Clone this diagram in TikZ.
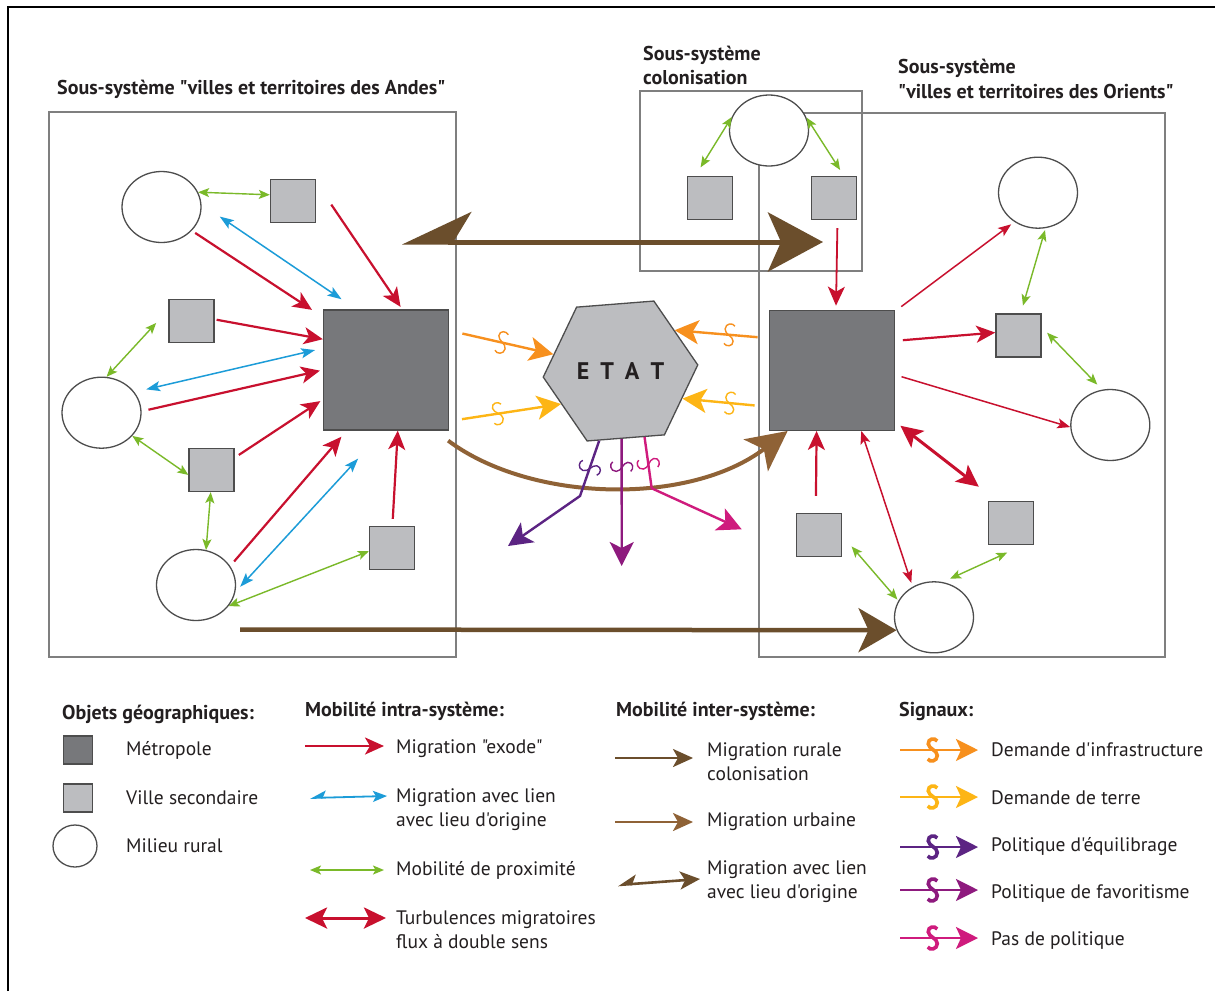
\documentclass[tikz,border=0pt]{standalone}
\usepackage{fontspec}
\newfontfamily\ptsans{PT Sans}
\usetikzlibrary{arrows.meta,shapes.geometric,decorations.markings,calc}
\definecolor{cred}{HTML}{C8102E}
\definecolor{cblue}{HTML}{1C9CD8}
\definecolor{cgreen}{HTML}{7AB929}
\definecolor{cbrownD}{HTML}{6B4E2C}
\definecolor{cbrownU}{HTML}{8F6236}
\definecolor{corange}{HTML}{F7901E}
\definecolor{cyellow}{HTML}{FDB515}
\definecolor{cpurple}{HTML}{5C2483}
\definecolor{cmagenta}{HTML}{8E1A7E}
\definecolor{cpink}{HTML}{CF1B7D}
\definecolor{cframe}{HTML}{7F7F7F}
\definecolor{cdark}{HTML}{77787B}
\definecolor{clight}{HTML}{BCBDC0}
\definecolor{cedge}{HTML}{4D4D4D}
\definecolor{ctext}{HTML}{231F20}
\tikzset{
  metro/.style={draw=cedge, fill=cdark, line width=1.3pt, minimum width=125pt, minimum height=120pt, inner sep=0pt},
  villesec/.style={draw=cedge, fill=clight, line width=1.3pt, minimum width=45pt, minimum height=43pt, inner sep=0pt},
  rural/.style={draw=cedge, fill=white, line width=1.3pt, ellipse, minimum width=79pt, minimum height=71pt, inner sep=0pt},
  sysbox/.style={draw=cframe, line width=1.8pt},
  redA/.style={draw=cred, line width=2.2pt, -{Stealth[length=19pt,width=17pt,inset=5pt]}},
  redB/.style={draw=cred, line width=1.5pt, -{Stealth[length=13pt,width=10pt,inset=3pt]}},
  redBB/.style={draw=cred, line width=1.5pt, {Stealth[length=13pt,width=10pt,inset=3pt]}-{Stealth[length=13pt,width=10pt,inset=3pt]}},
  turb/.style={draw=cred, line width=3pt, {Stealth[length=22pt,width=21pt,inset=5pt]}-{Stealth[length=22pt,width=21pt,inset=5pt]}},
  blu/.style={draw=cblue, line width=1.5pt, {Stealth[length=14pt,width=10pt,inset=3pt]}-{Stealth[length=14pt,width=10pt,inset=3pt]}},
  grn/.style={draw=cgreen, line width=1.4pt, {Stealth[length=11pt,width=9pt,inset=2.5pt]}-{Stealth[length=11pt,width=9pt,inset=2.5pt]}},
  sigline/.style={line width=2.4pt, -{Stealth[length=24pt,width=24pt,inset=6pt]}},
  sigS/.style 2 args={postaction={decorate,decoration={markings,mark=at position #1 with {\draw[#2,line width=1.4pt,-,shorten <=0pt,shorten >=0pt] (4.5,-9) .. controls (2,-12.5) and (-5,-11.5) .. (-4.5,-6) .. controls (-4,-1) and (4.5,0) .. (4.5,5.5) .. controls (4.5,11.5) and (-3,12.5) .. (-5,9);}}}},
  sigSB/.style 2 args={postaction={decorate,decoration={markings,mark=at position #1 with {\draw[#2,line width=3.6pt,-,shorten <=0pt,shorten >=0pt] (4.5,-9) .. controls (2,-12.5) and (-5,-11.5) .. (-4.5,-6) .. controls (-4,-1) and (4.5,0) .. (4.5,5.5) .. controls (4.5,11.5) and (-3,12.5) .. (-5,9);}}}},
  lbl/.style={anchor=west, align=left, inner sep=0pt},
  head/.style={anchor=west, align=left, inner sep=0pt, font=\ptsans\bfseries\fontsize{20}{24}\selectfont},
}
\begin{document}
\begin{tikzpicture}[x=1pt, y=-1pt, every node/.style={font=\ptsans\fontsize{19.5}{24}\selectfont, text=ctext}]
\useasboundingbox (0,0) rectangle (1215,991);
\fill[white] (0,0) rectangle (1215,991);
\draw[line width=2pt, black] (8,991) -- (8,7) -- (1215,7);

% system boxes
\draw[sysbox] (49,112) rectangle (456,657);
\draw[sysbox] (759,113) rectangle (1165,657);
\draw[sysbox] (640,91) rectangle (862,271);

% titles
\node[head] (t1) at (57,89) {Sous-système "villes et territoires des Andes"};
\node[head, font=\ptsans\bfseries\fontsize{20}{24}\selectfont] (t2) at (643,65) {Sous-système\\colonisation};
\node[head, font=\ptsans\bfseries\fontsize{20}{25}\selectfont] (t3) at (898,78.5) {Sous-système\\"villes et territoires des Orients"};

% left subsystem
\node[rural] (A) at (161.5,207) {};
\node[villesec] (a1) at (293,201) {};
\node[metro] (M1) at (386,370) {};
\node[villesec] (a2) at (191.5,321) {};
\node[rural] (B) at (101.5,412.7) {};
\node[villesec] (a3) at (211.5,470) {};
\node[rural] (C) at (196,585) {};
\node[villesec] (a4) at (392,548) {};

% colonisation
\node[villesec] (c1) at (709.7,198) {};
\node[villesec] (c2) at (834,198) {};
\node[rural] (col) at (769,130.5) {};

% right subsystem
\node[metro] (M2) at (831.7,370.3) {};
\node[rural] (D) at (1038,192.7) {};
\node[villesec] (d1) at (1018.4,335.4) {};
\node[rural] (E) at (1110.3,425) {};
\node[villesec] (d2) at (1010.8,523) {};
\node[villesec] (d3) at (819.3,535) {};
\node[rural] (F) at (934,617.3) {};

% ETAT
\node[regular polygon, regular polygon sides=6, regular polygon rotate=4.5, minimum size=155pt, draw=cedge, fill=clight, line width=1.3pt, inner sep=0pt, font=\ptsans\bfseries\fontsize{24}{24}\selectfont] (etat) at (620.5,371) {E\kern11pt T\kern11pt A\kern11pt T};

% left arrows
\draw[grn] (A.22) -- (a1.165);
\draw[blu, shorten <=22pt, shorten >=18pt] (A.4) -- (M1.116.6);
\draw[redA, shorten <=4pt, shorten >=13pt] (A.-38) -- (M1.140.5);
\draw[redA, shorten <=27pt, shorten >=3pt] (a1.39) -- (M1.75.4);
\draw[redA, shorten <=2pt] (a2.4) -- (M1.154.4);
\draw[blu, shorten <=12pt, shorten >=8pt] (B.32) -- (M1.161.4);
\draw[redA, shorten <=7pt, shorten >=3pt] (B.2) -- (M1.180);
\draw[grn, shorten >=18pt] (B.82.6) -- (a2.154);
\draw[grn] (B.-37.8) -- (a3.-168);
\draw[redA, shorten <=5pt, shorten >=3pt] (a3.28.6) -- (M1.-155.6);
\draw[grn] (a3.-92.6) -- (C.74.6);
\draw[redA, shorten <=6pt, shorten >=8pt] (C.29) -- (M1.-123);
\draw[blu, shorten <=7pt, shorten >=38pt] (C.-10.6) -- (M1.-92.8);
\draw[redA, shorten <=7pt] (a4.89) -- (M1.-79.3);
\draw[grn] (C.-33.5) -- (a4.-172);

% colonisation arrows
\draw[grn, shorten >=10pt] (col.160.4) -- (c1.123.5);
\draw[grn, shorten >=7pt] (col.19.8) -- (c2.66.4);
\draw[redA, line width=1.8pt, shorten <=8pt, shorten >=4pt] (c2.-81) -- (M2.86);

% right arrows
\draw[redB, shorten <=8pt, shorten >=4pt] (M2.43.8) -- (D.-129.2);
\draw[redA, shorten <=8pt] (M2.25.4) -- (d1.173.7);
\draw[redB, shorten <=7pt] (M2.-4.8) -- (E.-177.3);
\draw[turb, shorten <=7pt, shorten >=23pt] (M2.-39.9) -- (d2.122.2);
\draw[redA, shorten <=17pt] (d3.99) -- (M2.-104.8);
\draw[redBB, shorten >=4pt] (M2.-64.4) -- (F.125.9);
\draw[grn, shorten <=8pt, shorten >=2pt] (d1.84) -- (D.-78.7);
\draw[grn, shorten <=8pt, shorten >=7pt] (d1.20.4) -- (E.103.8);
\draw[grn, shorten <=14pt, shorten >=1.5pt] (d3.-2.3) -- (F.155.8);
\draw[grn, shorten <=8pt, shorten >=18pt] (F.76.4) -- (d2.-60);

% inter-system brown arrows
\coordinate (bigL) at (402,242);
\coordinate (bigR) at (823,242);
\draw[line width=5pt, cbrownD, {Stealth[harpoon,swap,length=64pt,width=60pt,inset=18pt]}-{Stealth[length=55pt,width=59pt,inset=13pt]}] (bigL) -- (bigR);
\coordinate (ruralS) at (240,629.5);
\draw[line width=4.5pt, cbrownD, -{Stealth[length=38pt,width=44pt,inset=10pt]}] (ruralS) -- (F.-161.5);
\draw[line width=4pt, cbrownU, -{Stealth[length=40pt,width=40pt,inset=10pt]}] ($(M1.south east)+(-1,10)$) .. controls ($(M1.south east)+(82,72)$) and ($(M2.-126)+(-98,75)$) .. (M2.-126);

% signals
\draw[sigline, corange, shorten <=13.6pt, sigS={0.506}{corange}] (M1.32.5) -- (etat.166.6);
\draw[sigline, corange, shorten <=11pt, sigS={0.42}{corange}] (M2.153.6) -- (etat.37);
\draw[sigline, cyellow, shorten <=13pt, sigS={0.436}{cyellow}] (M1.-39.9) -- (etat.-151.8);
\draw[sigline, cyellow, shorten <=14pt, sigS={0.45}{cyellow}] (M2.-150) -- (etat.-24.5);
\coordinate (pb) at (580,496);
\coordinate (pe) at (508,546);
\draw[sigline, cpurple, sigS={29pt}{cpurple}] (etat.-107) -- (pb) -- (pe);
\coordinate (me) at (621.7,566);
\draw[sigline, cmagenta, sigS={28pt}{cmagenta}] (etat.-89) -- (me);
\coordinate (kb) at (651.7,488.3);
\coordinate (ke) at (741.7,529.3);
\draw[sigline, cpink, sigS={27pt}{cpink}] (etat.-70.5) -- (kb) -- (ke);

% ---------------- legend ----------------
\node[head] (h1) at (62,714) {Objets géographiques:};
\node[head] (h2) at (305,711) {Mobilité intra-système:};
\node[head] (h3) at (616,711) {Mobilité inter-système:};
\node[head] (h4) at (899,711) {Signaux:};

\node[metro, minimum width=29pt, minimum height=28pt] (lgM) at (78,750) {};
\node[villesec, minimum width=29pt, minimum height=28pt] (lgV) at (78,798) {};
\node[rural, minimum width=44pt, minimum height=42pt] (lgR) at (75,846) {};
\node[lbl] (tM) at (126,750) {Métropole};
\node[lbl] (tV) at (126,798) {Ville secondaire};
\node[lbl] (tR) at (126,846) {Milieu rural};

\coordinate (l1a) at (305,746); \coordinate (l1b) at (384,746);
\draw[redA, line width=2.4pt] (l1a) -- (l1b);
\node[lbl] (tl1) at (396,749) {Migration "exode"};
\coordinate (l2a) at (310,798); \coordinate (l2b) at (387,796);
\draw[draw=cblue, line width=1.8pt, {Stealth[harpoon,swap,length=14pt,width=14pt,inset=3pt]}-{Stealth[length=14pt,width=11pt,inset=3pt]}] (l2a) -- (l2b);
\node[lbl] (tl2) at (396,810) {Migration avec lien\\avec lieu d'origine};
\coordinate (l3a) at (310,870); \coordinate (l3b) at (384,870);
\draw[grn, line width=1.6pt] (l3a) -- (l3b);
\node[lbl] (tl3) at (396,870) {Mobilité de proximité};
\coordinate (l4a) at (305,918); \coordinate (l4b) at (386,918);
\draw[turb] (l4a) -- (l4b);
\node[lbl] (tl4) at (396,930) {Turbulences migratoires\\flux à double sens};

\coordinate (b1a) at (615,758); \coordinate (b1b) at (693,758);
\draw[line width=2.6pt, cbrownD, -{Stealth[length=20pt,width=18pt,inset=5pt]}] (b1a) -- (b1b);
\node[lbl] (tb1) at (707,762) {Migration rurale\\colonisation};
\coordinate (b2a) at (615,822); \coordinate (b2b) at (693,822);
\draw[line width=2.6pt, cbrownU, -{Stealth[length=20pt,width=18pt,inset=5pt]}] (b2a) -- (b2b);
\node[lbl] (tb2) at (707,822) {Migration urbaine};
\coordinate (b3a) at (618,885); \coordinate (b3b) at (700,879);
\draw[line width=2.6pt, cbrownD, {Stealth[harpoon,swap,length=16pt,width=18pt,inset=4pt]}-{Stealth[length=20pt,width=18pt,inset=5pt]}] (b3a) -- (b3b);
\node[lbl] (tb3) at (707,882) {Migration avec lien\\avec lieu d'origine};

\coordinate (s1a) at (900,750); \coordinate (s1b) at (978,750);
\draw[sigline, line width=2.5pt, corange, -{Stealth[length=22pt,width=22pt,inset=5pt]}, sigSB={0.42}{corange}] (s1a) -- (s1b);
\node[lbl] (ts1) at (991,750) {Demande d'infrastructure};
\coordinate (s2a) at (900,797); \coordinate (s2b) at (978,797);
\draw[sigline, line width=2.5pt, cyellow, -{Stealth[length=22pt,width=22pt,inset=5pt]}, sigSB={0.42}{cyellow}] (s2a) -- (s2b);
\node[lbl] (ts2) at (991,798) {Demande de terre};
\coordinate (s3a) at (900,847); \coordinate (s3b) at (978,847);
\draw[sigline, line width=2.5pt, cpurple, -{Stealth[length=22pt,width=22pt,inset=5pt]}, sigSB={0.42}{cpurple}] (s3a) -- (s3b);
\node[lbl] (ts3) at (991,847) {Politique d'équilibrage};
\coordinate (s4a) at (900,890); \coordinate (s4b) at (978,890);
\draw[sigline, line width=2.5pt, cmagenta, -{Stealth[length=22pt,width=22pt,inset=5pt]}, sigSB={0.42}{cmagenta}] (s4a) -- (s4b);
\node[lbl] (ts4) at (991,894) {Politique de favoritisme};
\coordinate (s5a) at (900,938); \coordinate (s5b) at (978,938);
\draw[sigline, line width=2.5pt, cpink, -{Stealth[length=22pt,width=22pt,inset=5pt]}, sigSB={0.42}{cpink}] (s5a) -- (s5b);
\node[lbl] (ts5) at (991,941) {Pas de politique};
\end{tikzpicture}
\end{document}
